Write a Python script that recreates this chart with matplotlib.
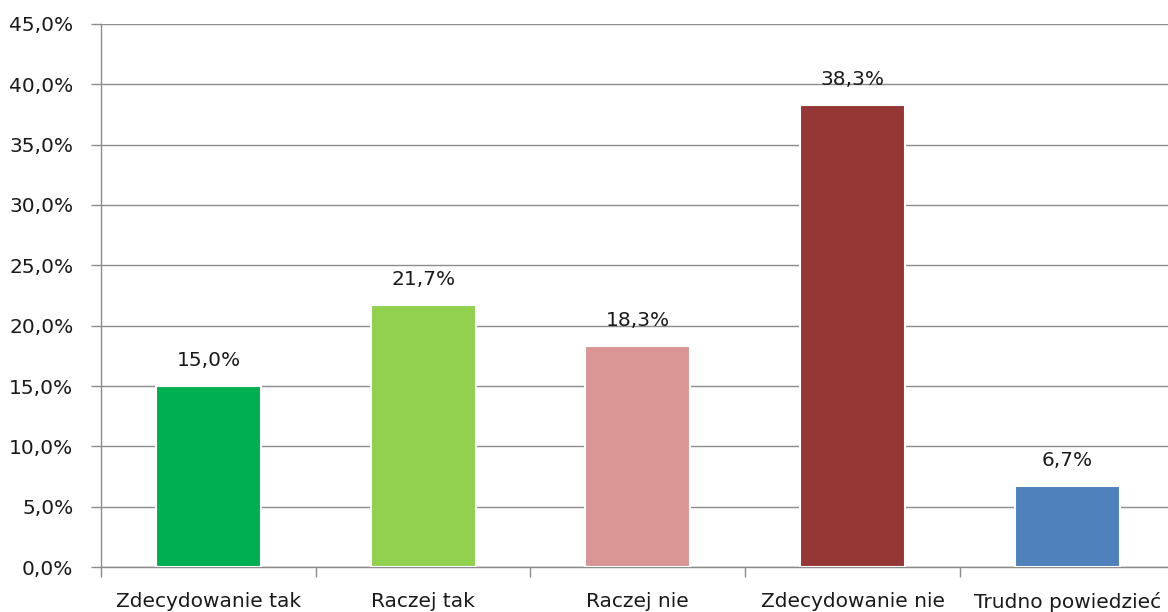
import numpy as np
import matplotlib.pyplot as plt
from matplotlib.ticker import FuncFormatter, FixedLocator

categories = ['Zdecydowanie tak', 'Raczej tak', 'Raczej nie', 'Zdecydowanie nie', 'Trudno powiedzieć']
values = [15.0, 21.7, 18.3, 38.3, 6.7]
colors = ['#00B050', '#92D050', '#D99694', '#953735', '#4F81BD']

plt.rcParams['font.family'] = ['DejaVu Sans']

fig = plt.figure(figsize=(11.68, 6.12), dpi=100)
ax = fig.add_axes([0.0865, 0.0735, 0.9192, 0.8873])

x = np.arange(len(categories))
ax.bar(x, values, width=0.49, color=colors, edgecolor='white', linewidth=1.5, zorder=3)

# percentage labels sit a fixed distance above each bar
for xi, v in zip(x, values):
    ax.annotate(f'{v:.1f}%'.replace('.', ','), (xi, v), xytext=(0, 14.5), textcoords='offset points',
                ha='center', va='baseline', fontsize=14.5, color='#1a1a1a', zorder=4)

ax.set_ylim(0, 45)
ax.set_xlim(-0.5, len(categories) - 0.5)
ax.set_yticks(np.arange(0, 46, 5))
ax.yaxis.set_major_formatter(FuncFormatter(lambda v, p: f'{v:.1f}%'.replace('.', ',')))
ax.yaxis.grid(True, color='#8c8c8c', linewidth=1.0, zorder=0)

ax.set_xticks(x)
ax.set_xticklabels(categories)
ax.xaxis.set_minor_locator(FixedLocator(np.arange(-0.5, len(categories), 1)))
ax.tick_params(axis='x', which='major', length=0, pad=18, labelsize=14.5, labelcolor='#1a1a1a')
ax.tick_params(axis='x', which='minor', length=7, width=1.0, color='#8c8c8c', direction='out')
ax.tick_params(axis='y', length=7, width=1.0, color='#8c8c8c', pad=13, labelsize=14.5, labelcolor='#1a1a1a')

for side in ['top', 'right']:
    ax.spines[side].set_visible(False)
for side in ['left', 'bottom']:
    ax.spines[side].set_color('#8c8c8c')
    ax.spines[side].set_linewidth(1.0)

fig.savefig('out.png', dpi=100)
